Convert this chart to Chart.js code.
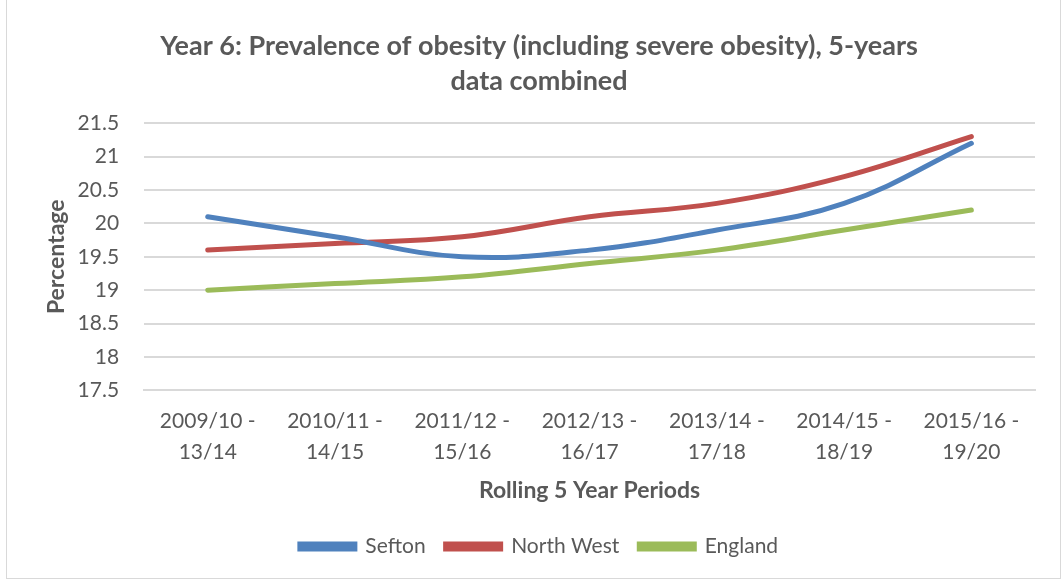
<!DOCTYPE html>
<html>
<head>
<meta charset="utf-8">
<script src="https://cdn.jsdelivr.net/npm/chart.js@4/dist/chart.umd.min.js"></script>
<style>
  html, body { margin: 0; padding: 0; background: #fff; }
  #wrap { position: absolute; left: 6px; top: -1px; width: 1053px; height: 578px; border: 1px solid #d9d9d9; }
  #myChart { position: absolute; left: -7px; top: 1px; }
</style>
</head>
<body>
<div id="wrap"><canvas id="myChart" width="1061" height="579"></canvas></div>
<script>
const periods = [
  ["2009/10 -", "13/14"],
  ["2010/11 -", "14/15"],
  ["2011/12 -", "15/16"],
  ["2012/13 -", "16/17"],
  ["2013/14 -", "17/18"],
  ["2014/15 -", "18/19"],
  ["2015/16 -", "19/20"]
];
const sefton = [20.1, 19.8, 19.5, 19.6, 19.9, 20.3, 21.2];
const northWest = [19.6, 19.7, 19.8, 20.1, 20.3, 20.7, 21.3];
const england = [19.0, 19.1, 19.2, 19.4, 19.6, 19.9, 20.2];

const textColor = "#595959";
const font = "Lato, 'Open Sans', sans-serif";

const series = [
  { label: "Sefton", data: sefton, color: "#4f81bd" },
  { label: "North West", data: northWest, color: "#c0504d" },
  { label: "England", data: england, color: "#9bbb59" }
];

const ctx = document.getElementById("myChart");
new Chart(ctx, {
  type: "line",
  data: {
    labels: periods,
    datasets: series.map(s => ({
      label: s.label,
      data: s.data,
      borderColor: s.color,
      backgroundColor: s.color,
      borderWidth: 5,
      pointRadius: 0,
      tension: 0.4,
      fill: false,
      borderCapStyle: "round"
    }))
  },
  options: {
    responsive: false,
    animation: false,
    layout: { padding: { left: 43, right: 26, top: 14, bottom: 13 } },
    plugins: {
      title: {
        display: true,
        text: ["Year 6: Prevalence of obesity (including severe obesity), 5-years", "data combined"],
        color: textColor,
        font: { family: font, size: 27, weight: "bold", lineHeight: 1.3 },
        padding: { top: 14, bottom: 24 }
      },
      legend: {
        position: "bottom",
        labels: {
          color: textColor,
          font: { family: font, size: 21 },
          boxWidth: 55,
          boxHeight: 5,
          padding: 20
        }
      },
      tooltip: { enabled: false }
    },
    scales: {
      x: {
        offset: true,
        grid: { display: false },
        border: { color: "#d9d9d9", width: 2 },
        ticks: { color: textColor, font: { family: font, size: 21, lineHeight: 1.5 }, maxRotation: 0, padding: 7 },
        title: {
          display: true,
          text: "Rolling 5 Year Periods",
          color: textColor,
          font: { family: font, size: 23, weight: "bold" },
          padding: { top: 1, bottom: 12 }
        }
      },
      y: {
        min: 17.5,
        max: 21.5,
        grid: { color: "#d9d9d9", lineWidth: 2, drawTicks: false },
        border: { display: false },
        ticks: {
          stepSize: 0.5,
          color: textColor,
          font: { family: font, size: 21 },
          padding: 25,
          callback: v => String(v)
        },
        title: {
          display: true,
          text: "Percentage",
          color: textColor,
          font: { family: font, size: 23, weight: "bold" },
          padding: { top: 0, bottom: -18 }
        }
      }
    }
  }
});
</script>
</body>
</html>
